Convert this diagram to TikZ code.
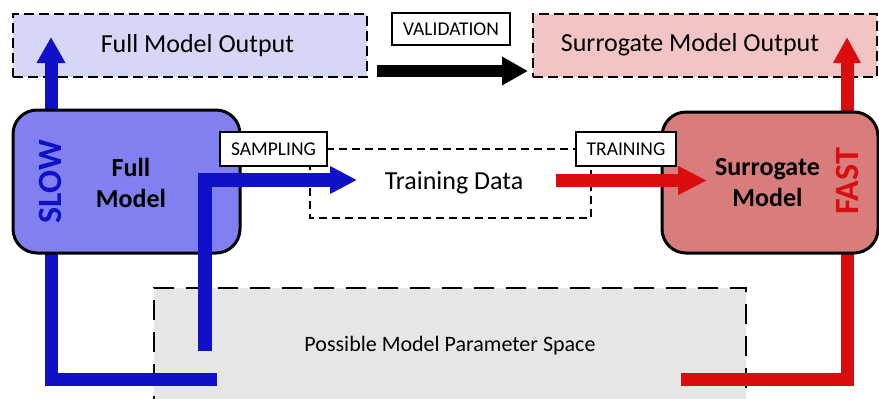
\documentclass[tikz,border=0pt]{standalone}
\usepackage{fontspec}
\setmainfont{Carlito}
\usetikzlibrary{arrows.meta}
\definecolor{lav}{RGB}{214,214,246}
\definecolor{pinkout}{RGB}{243,196,196}
\definecolor{fullfill}{RGB}{128,128,240}
\definecolor{surfill}{RGB}{216,124,124}
\definecolor{myblue}{RGB}{16,16,200}
\definecolor{myred}{RGB}{217,13,13}
\definecolor{spacegray}{RGB}{230,230,230}
\begin{document}
\begin{tikzpicture}[x=1pt,y=-1pt,
  outbox/.style={draw=black, line width=2.6pt, dash pattern=on 10pt off 5pt, inner sep=0pt},
  modelbox/.style={draw=black, line width=3pt, rounded corners=24pt, inner sep=0pt},
  tagbox/.style={draw=black, fill=white, line width=1.5pt, inner sep=0pt, font=\fontsize{19.5}{22}\selectfont},
  bigtext/.style={font=\fontsize{26}{30}\selectfont},
  boldtext/.style={font=\fontsize{26}{31}\selectfont\bfseries, align=center},
  speedtext/.style={font=\fontsize{34}{38}\selectfont\bfseries, rotate=90},
  fatarrow/.style={line width=#1, line join=miter},
]
\useasboundingbox (0,0) rectangle (879,399);

% parameter space
\node[draw=black, fill=spacegray, line width=2.8pt, dash pattern=on 20pt off 12pt,
      minimum width=592pt, minimum height=116pt, inner sep=0pt,
      font=\fontsize{22}{26}\selectfont] (space) at (450,346) {Possible Model Parameter Space};

% output boxes
\node[outbox, fill=lav, minimum width=354pt, minimum height=63pt] (fmo) at (190,45.5) {};
\node[bigtext] (fmotext) at (197.5,45.5) {Full Model Output};
\node[outbox, fill=pinkout, minimum width=344pt, minimum height=63pt] (smo) at (705,45.5) {};
\node[bigtext] (smotext) at (690,45) {Surrogate Model Output};

% validation
\node[tagbox, minimum width=118pt, minimum height=32pt] (val) at (451,29) {VALIDATION};
\coordinate (vs) at (377,71);
\coordinate (ve) at (528,71);
\draw[fatarrow=12pt, -{Triangle[width=27pt,length=26pt]}] (vs) -- (ve);

% slow / fast paths (behind model boxes)
\coordinate (slowstart) at (217,379);
\coordinate (slowcorner) at (51,379);
\coordinate (slowtip) at (51,37);
\draw[myblue, fatarrow=13pt, -{Triangle[width=27pt,length=26pt]}] (slowstart) -- (slowcorner) -- (slowtip);
\coordinate (faststart) at (681,379);
\coordinate (fastcorner) at (847,379);
\coordinate (fasttip) at (847,37);
\draw[myred, fatarrow=13pt, -{Triangle[width=26pt,length=26pt]}] (faststart) -- (fastcorner) -- (fasttip);

% model boxes
\node[modelbox, fill=fullfill, minimum width=227pt, minimum height=143pt] (full) at (126.5,181.5) {};
\node[boldtext] (fulltext) at (131,183) {Full\\Model};
\node[speedtext, myblue] (slow) at (50,181.5) {SLOW};
\node[modelbox, fill=surfill, minimum width=216pt, minimum height=141pt] (sur) at (770,182.5) {};
\node[boldtext] (surtext) at (767.5,182.5) {Surrogate\\Model};
\node[speedtext, myred] (fast) at (847.5,181.5) {FAST};

% training data region
\coordinate (dtl) at (310,149);
\coordinate (dbr) at (591,218);
\draw[line width=2.2pt, dash pattern=on 8pt off 5pt] (dtl) rectangle (dbr);
\node[bigtext] (td) at (454,183) {Training Data};
\node[tagbox, minimum width=107pt, minimum height=34pt] (samp) at (273.5,149) {SAMPLING};
\node[tagbox, minimum width=100pt, minimum height=34pt] (train) at (626,149) {TRAINING};

% sampling arrow
\coordinate (bs) at (205,351);
\coordinate (btip) at (357,180);
\draw[myblue, fatarrow=14pt, -{Triangle[width=26pt,length=27pt]}] (bs) |- (btip);

% training arrow
\coordinate (rs) at (556,180.5);
\coordinate (rtip) at (707,180.5);
\draw[myred, fatarrow=13pt, -{Triangle[width=27pt,length=29pt]}] (rs) -- (rtip);
\end{tikzpicture}
\end{document}
